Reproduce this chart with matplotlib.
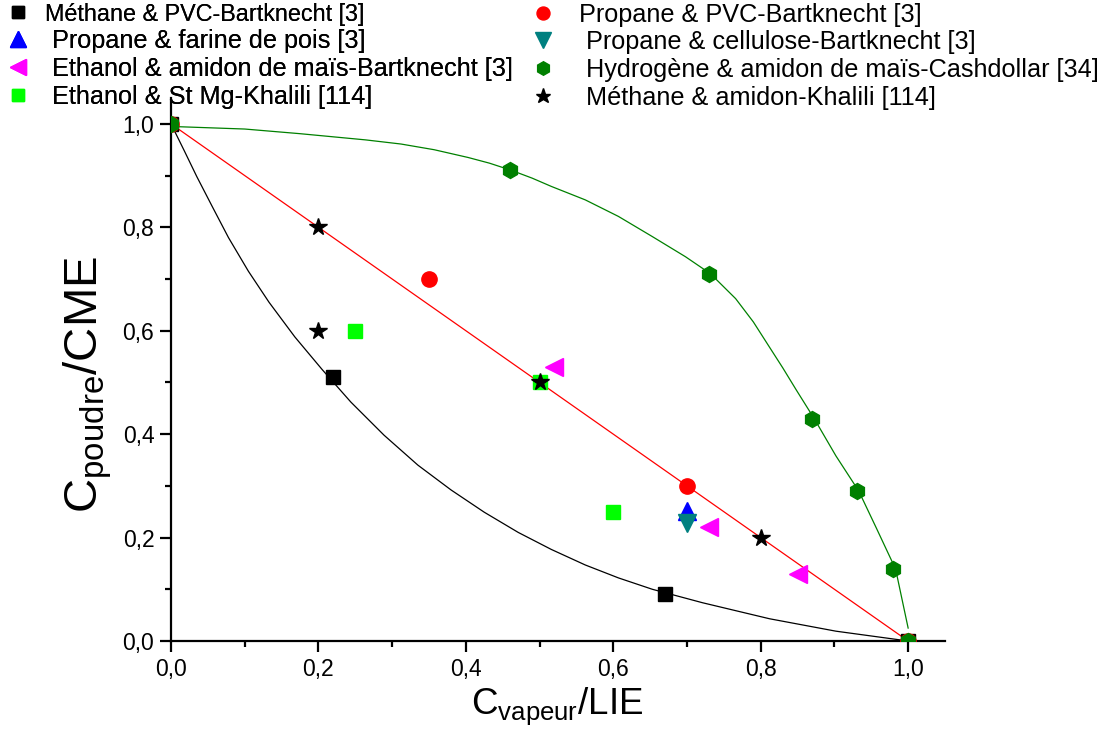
import matplotlib
matplotlib.use('Agg')
import matplotlib.pyplot as plt
from matplotlib.ticker import FixedLocator, MultipleLocator

plt.rcParams['font.family'] = ['Liberation Sans', 'DejaVu Sans']
plt.rcParams['mathtext.fontset'] = 'custom'
plt.rcParams['mathtext.rm'] = 'Liberation Sans'
plt.rcParams['mathtext.it'] = 'Liberation Sans'

# ---------------- data ----------------
methane_pvc_x = [0.0, 0.22, 0.67, 1.0]
methane_pvc_y = [1.0, 0.51, 0.09, 0.0]
propane_pvc_x = [0.0, 0.35, 0.70, 1.0]
propane_pvc_y = [1.0, 0.70, 0.30, 0.0]
propane_pois_x = [0.70]
propane_pois_y = [0.252]
propane_cell_x = [0.70]
propane_cell_y = [0.228]
ethanol_amidon_x = [0.52, 0.73, 0.85]
ethanol_amidon_y = [0.53, 0.22, 0.13]
hydrogene_x = [0.0, 0.46, 0.73, 0.87, 0.93, 0.98, 1.0]
hydrogene_y = [1.0, 0.91, 0.71, 0.43, 0.29, 0.14, 0.0]
ethanol_stmg_x = [0.25, 0.50, 0.60]
ethanol_stmg_y = [0.60, 0.50, 0.25]
methane_amidon_x = [0.20, 0.20, 0.50, 0.80]
methane_amidon_y = [0.80, 0.60, 0.50, 0.20]

# fitted curves
red_fit_x = [0.0, 1.0]
red_fit_y = [1.0, 0.0]
black_fit_x = [0.0, 0.018, 0.035, 0.056, 0.078, 0.105, 0.133, 0.168, 0.205, 0.244, 0.289,
               0.335, 0.380, 0.425, 0.471, 0.516, 0.562, 0.607, 0.653, 0.721,
               0.812, 0.902, 1.0]
black_fit_y = [1.0, 0.948, 0.898, 0.840, 0.780, 0.715, 0.655, 0.588, 0.525, 0.462, 0.398,
               0.340, 0.292, 0.249, 0.210, 0.177, 0.147, 0.122, 0.100, 0.074,
               0.043, 0.019, 0.0]
green_fit_x = [0.0, 0.10, 0.175, 0.264, 0.312, 0.357, 0.403, 0.432, 0.462, 0.490, 0.516,
               0.562, 0.607, 0.653, 0.698, 0.732, 0.766, 0.790, 0.812, 0.830, 0.848,
               0.873, 0.902, 0.933, 0.957, 0.983, 1.0]
green_fit_y = [0.995, 0.990, 0.981, 0.969, 0.961, 0.950, 0.935, 0.924, 0.910, 0.895, 0.879,
               0.853, 0.821, 0.782, 0.743, 0.710, 0.662, 0.617, 0.568, 0.528, 0.486,
               0.429, 0.358, 0.290, 0.218, 0.139, 0.025]

tick_values = [0.0, 0.2, 0.4, 0.6, 0.8, 1.0]
tick_labels = ['0,0', '0,2', '0,4', '0,6', '0,8', '1,0']

labels = ['Méthane & PVC-Bartknecht [3]',
          'Propane & PVC-Bartknecht [3]',
          ' Propane & farine de pois [3]',
          ' Propane & cellulose-Bartknecht [3]',
          ' Ethanol & amidon de maïs-Bartknecht [3]',
          ' Hydrogène & amidon de maïs-Cashdollar [34]',
          ' Ethanol & St Mg-Khalili [114]',
          ' Méthane & amidon-Khalili [114]']

# ---------------- figure ----------------
W, H = 1112, 733
fig = plt.figure(figsize=(W / 100, H / 100), dpi=100)
ax = fig.add_axes([171 / W, 1 - 641 / H, (945 - 171) / W, (641 - 98) / H])

ax.plot(red_fit_x, red_fit_y, color='#ff0000', lw=0.9, zorder=2)
ax.plot(black_fit_x, black_fit_y, color='black', lw=0.9, zorder=2)
ax.plot(green_fit_x, green_fit_y, color='#008000', lw=0.9, zorder=2)

h1, = ax.plot(methane_pvc_x, methane_pvc_y, 's', color='black', ms=9.5, ls='none', zorder=3)
h2, = ax.plot(propane_pvc_x, propane_pvc_y, 'o', color='#ff0000', ms=11, ls='none', zorder=3)
h3, = ax.plot(propane_pois_x, propane_pois_y, '^', color='#0000ff', ms=13, ls='none', zorder=3)
h4, = ax.plot(propane_cell_x, propane_cell_y, 'v', color='#008080', ms=13, ls='none', zorder=3)
h5, = ax.plot(ethanol_amidon_x, ethanol_amidon_y, '<', color='#ff00ff', ms=13, ls='none', zorder=3)
h6, = ax.plot(hydrogene_x, hydrogene_y, 'h', color='#008000', ms=11.5, ls='none', zorder=3)
h7, = ax.plot(ethanol_stmg_x, ethanol_stmg_y, 's', color='#00ff00', ms=9.5, ls='none', zorder=3)
h8, = ax.plot(methane_amidon_x, methane_amidon_y, '*', color='black', ms=13, ls='none', zorder=4)

ax.set_xlim(0, 1.05)
ax.set_ylim(0, 1.05)
for s in ['top', 'right']:
    ax.spines[s].set_visible(False)
for s in ['left', 'bottom']:
    ax.spines[s].set_linewidth(1.6)

ax.xaxis.set_major_locator(FixedLocator(tick_values))
ax.yaxis.set_major_locator(FixedLocator(tick_values))
ax.set_xticklabels(tick_labels)
ax.set_yticklabels(tick_labels)
ax.xaxis.set_minor_locator(MultipleLocator(0.1))
ax.yaxis.set_minor_locator(MultipleLocator(0.1))
ax.tick_params(which='major', direction='out', length=8, width=1.6, labelsize=16.5, pad=4)
ax.tick_params(which='minor', direction='out', length=4.5, width=1.6)

fig.text(557 / W, 1 - 706 / H, r'$\mathregular{C_{vapeur}/LIE}$', fontsize=26.5,
         ha='center', va='center')
fig.text(88 / W, 1 - 385 / H, r'$\mathregular{C_{poudre}/CME}$', fontsize=34,
         ha='center', va='center', rotation=90)

common = dict(loc='upper left', frameon=False, fontsize=18.2, markerscale=0.85,
              borderaxespad=0.0, borderpad=0.1, labelspacing=0.15, handlelength=1.0)
leg1 = fig.legend([h1, h3, h5, h7], [labels[0], labels[2], labels[4], labels[6]],
                  bbox_to_anchor=(3 / W, 1.0), handletextpad=0.56, **common)
leg1.get_texts()[0].set_fontsize(16.8)
leg2 = fig.legend([h2, h4, h6, h8], [labels[1], labels[3], labels[5], labels[7]],
                  bbox_to_anchor=(528 / W, 1.0), handletextpad=0.91, **common)
fig.add_artist(leg1)

fig.savefig('out.png', dpi=100)
